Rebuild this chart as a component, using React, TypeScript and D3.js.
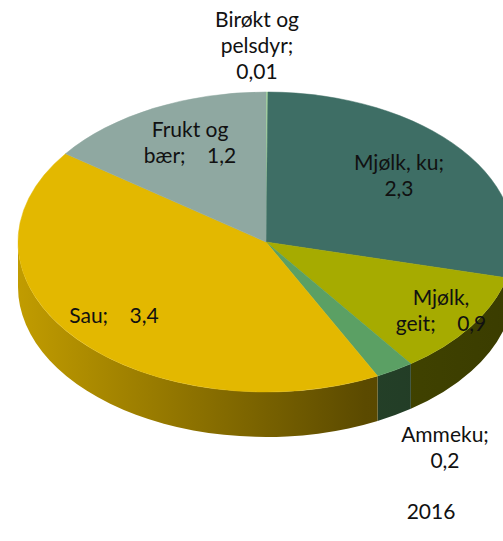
import React from "react";
import * as d3 from "d3";

const categories = ["Birøkt og pelsdyr", "Mjølk, ku", "Mjølk, geit", "Ammeku", "Sau", "Frukt og bær"];
const values = [0.01, 2.3, 0.9, 0.2, 3.4, 1.2];
const valueLabels = ["0,01", "2,3", "0,9", "0,2", "3,4", "1,2"];
const colors = ["#a8d8a0", "#3e6e65", "#a6ab00", "#5ba064", "#e3b800", "#8fa8a1"];
const yearLabel = "2016";

const W = 503, H = 541;
const cx = 266, cy = 242, rx = 248, ry = 150, depth = 45;
const GAP = "\u00a0\u00a0\u00a0\u00a0";

function pt(a: number, dy = 0): [number, number] {
  return [cx + rx * Math.sin(a), cy - ry * Math.cos(a) + dy];
}

function topPath(a0: number, a1: number) {
  const p = d3.path();
  const [x0, y0] = pt(a0);
  const [x1, y1] = pt(a1);
  p.moveTo(cx, cy);
  p.lineTo(x0, y0);
  const large = a1 - a0 > Math.PI ? 1 : 0;
  return `${p.toString()} A ${rx} ${ry} 0 ${large} 1 ${x1} ${y1} Z`;
}

function sidePath(a0: number, a1: number) {
  const s = Math.max(a0, Math.PI / 2);
  const e = Math.min(a1, (3 * Math.PI) / 2);
  if (e <= s) return null;
  const [x0, y0] = pt(s);
  const [x1, y1] = pt(e);
  const [bx1, by1] = pt(e, depth);
  const [bx0, by0] = pt(s, depth);
  return `M ${x0} ${y0} A ${rx} ${ry} 0 0 1 ${x1} ${y1} L ${bx1} ${by1} A ${rx} ${ry} 0 0 0 ${bx0} ${by0} Z`;
}

function shade(c: string, k: number) {
  const col = d3.rgb(c);
  return d3.rgb(col.r * k, col.g * k, col.b * k).formatHex();
}

type Lbl = { lines: string[]; x: number; y: number };
const labelPos: Lbl[] = [
  { lines: ["Birøkt og", "pelsdyr;", valueLabels[0]], x: 257, y: 27 },
  { lines: ["Mjølk, ku;", valueLabels[1]], x: 399, y: 170 },
  { lines: ["Mjølk,", "geit;" + GAP + valueLabels[2]], x: 441, y: 305 },
  { lines: ["Ammeku;", valueLabels[3]], x: 445, y: 442 },
  { lines: ["Sau;" + GAP + valueLabels[4]], x: 114, y: 323 },
  { lines: ["Frukt og", "bær;" + GAP + valueLabels[5]], x: 190, y: 137 },
];

export default function App() {
  const pie = d3.pie<number>().sort(null).value((d) => d);
  const arcs = pie(values);
  return (
    <svg width={W} height={H} style={{ position: "absolute", left: 0, top: 0, background: "#fff" }}>
      <defs>
        {colors.map((c, i) => (
          <linearGradient key={i} id={`side${i}`} gradientUnits="userSpaceOnUse" x1={cx - rx} x2={cx + rx} y1={0} y2={0}>
            <stop offset="0" stopColor={shade(c, 0.85)} />
            <stop offset="0.35" stopColor={shade(c, 0.62)} />
            <stop offset="0.7" stopColor={shade(c, 0.4)} />
            <stop offset="1" stopColor={shade(c, 0.35)} />
          </linearGradient>
        ))}
      </defs>
      {arcs.map((a, i) => {
        const d = sidePath(a.startAngle, a.endAngle);
        return d ? <path key={"s" + i} d={d} fill={`url(#side${i})`} /> : null;
      })}
      {arcs.map((a, i) => (
        <path key={"t" + i} d={topPath(a.startAngle, a.endAngle)} fill={colors[i]} stroke={colors[i]} strokeWidth={0.5} />
      ))}
      <g fontFamily="Lato, 'Open Sans', sans-serif" fontSize={21} fill="#111" textAnchor="middle">
        {labelPos.map((l, i) => (
          <text key={i} x={l.x} y={l.y}>
            {l.lines.map((s, j) => (
              <tspan key={j} x={l.x} y={l.y + j * 26}>{s}</tspan>
            ))}
          </text>
        ))}
        <text x={431} y={519}>{yearLabel}</text>
      </g>
    </svg>
  );
}
